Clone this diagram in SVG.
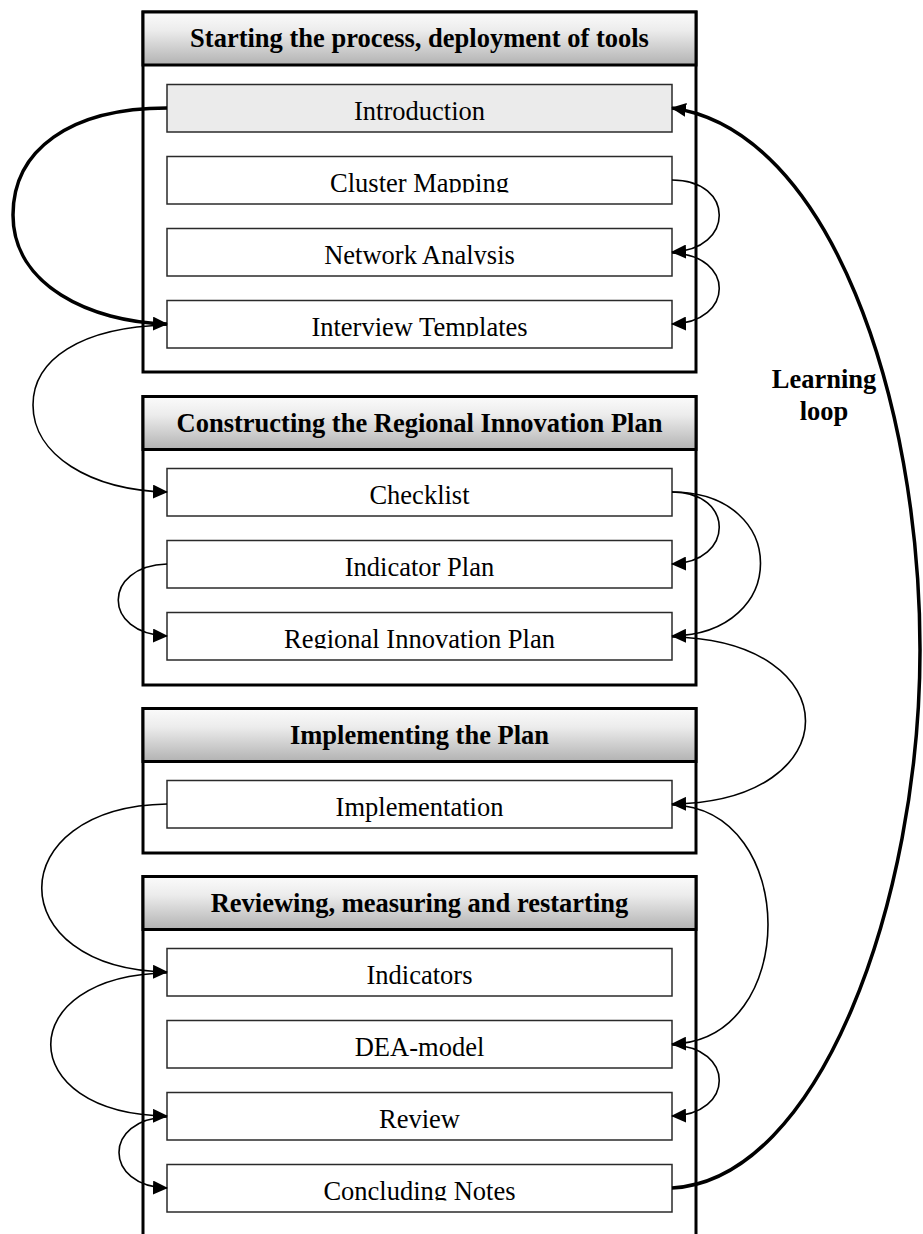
<svg xmlns="http://www.w3.org/2000/svg" width="923" height="1234" viewBox="0 0 923 1234">
  <style>
    .frame { fill: #ffffff; stroke: #000000; stroke-width: 3; }
    .frame-open { fill: none; stroke: #000000; stroke-width: 3; }
    .head { fill: url(#headGrad); stroke: #000000; stroke-width: 3; }
    .item { fill: #ffffff; stroke: #2a2a2a; stroke-width: 1.5; }
    .item-first { fill: #ebebeb; stroke: #2a2a2a; stroke-width: 1.5; }
    .title { font-family: "Liberation Serif", "Times New Roman", serif; font-weight: bold; font-size: 26.5px; text-anchor: middle; fill: #000000; }
    .label { font-family: "Liberation Serif", "Times New Roman", serif; font-size: 26.5px; text-anchor: middle; fill: #000000; }
    .link { fill: none; stroke: #000000; stroke-width: 1.6; marker-end: url(#arrow); }
    .link-bold { fill: none; stroke: #000000; stroke-width: 3.5; marker-end: url(#arrow); }
  </style>
  <defs>
    <linearGradient id="headGrad" x1="0" y1="0" x2="0" y2="1">
      <stop offset="0" stop-color="#fbfbfb"/>
      <stop offset="0.35" stop-color="#ececec"/>
      <stop offset="1" stop-color="#b2b2b2"/>
    </linearGradient>
    <marker id="arrow" viewBox="0 0 15 14" refX="14" refY="7" markerWidth="15" markerHeight="14" markerUnits="userSpaceOnUse" orient="auto">
      <path d="M0,0 L15,7 L0,14 z" fill="#000000"/>
    </marker>
    <!-- label areas: descenders run past the lower text margin -->
    <clipPath id="clipCluster"><rect x="167" y="156.5" width="505" height="36"/></clipPath>
    <clipPath id="clipNetwork"><rect x="167" y="228.5" width="505" height="36"/></clipPath>
    <clipPath id="clipInterview"><rect x="167" y="300.5" width="505" height="36"/></clipPath>
    <clipPath id="clipRip"><rect x="167" y="612.5" width="505" height="36"/></clipPath>
    <clipPath id="clipConcluding"><rect x="167" y="1164.5" width="505" height="36"/></clipPath>
  </defs>

  <!-- Phase 1 -->
  <g id="phase-start">
    <rect class="frame" x="143" y="12" width="553" height="360"/>
    <rect class="head" x="143" y="12" width="553" height="53"/>
    <text class="title" x="419.5" y="47">Starting the process, deployment of tools</text>
  </g>
  <g id="introduction">
    <rect class="item-first" x="167" y="84.5" width="505" height="47.5"/>
    <text class="label" x="419.5" y="119.5">Introduction</text>
  </g>
  <g id="cluster-mapping">
    <rect class="item" x="167" y="156.5" width="505" height="47.5"/>
    <text class="label" x="419.5" y="191.5" clip-path="url(#clipCluster)">Cluster Mapping</text>
  </g>
  <g id="network-analysis">
    <rect class="item" x="167" y="228.5" width="505" height="47.5"/>
    <text class="label" x="419.5" y="263.5" clip-path="url(#clipNetwork)">Network Analysis</text>
  </g>
  <g id="interview-templates">
    <rect class="item" x="167" y="300.5" width="505" height="47.5"/>
    <text class="label" x="419.5" y="335.5" clip-path="url(#clipInterview)">Interview Templates</text>
  </g>

  <!-- Phase 2 -->
  <g id="phase-construct">
    <rect class="frame" x="143" y="396.5" width="553" height="288.5"/>
    <rect class="head" x="143" y="396.5" width="553" height="53"/>
    <text class="title" x="419.5" y="431.5">Constructing the Regional Innovation Plan</text>
  </g>
  <g id="checklist">
    <rect class="item" x="167" y="468.5" width="505" height="47.5"/>
    <text class="label" x="419.5" y="503.5">Checklist</text>
  </g>
  <g id="indicator-plan">
    <rect class="item" x="167" y="540.5" width="505" height="47.5"/>
    <text class="label" x="419.5" y="575.5">Indicator Plan</text>
  </g>
  <g id="regional-innovation-plan">
    <rect class="item" x="167" y="612.5" width="505" height="47.5"/>
    <text class="label" x="419.5" y="647.5" clip-path="url(#clipRip)">Regional Innovation Plan</text>
  </g>

  <!-- Phase 3 -->
  <g id="phase-implement">
    <rect class="frame" x="143" y="708.5" width="553" height="144.5"/>
    <rect class="head" x="143" y="708.5" width="553" height="53"/>
    <text class="title" x="419.5" y="743.5">Implementing the Plan</text>
  </g>
  <g id="implementation">
    <rect class="item" x="167" y="780.5" width="505" height="47.5"/>
    <text class="label" x="419.5" y="815.5">Implementation</text>
  </g>

  <!-- Phase 4: frame runs past the lower edge -->
  <g id="phase-review">
    <rect x="143" y="876.5" width="553" height="370" fill="#ffffff"/>
    <path class="frame-open" d="M143,1240 V876.5 H696 V1240"/>
    <rect class="head" x="143" y="876.5" width="553" height="53"/>
    <text class="title" x="419.5" y="911.5">Reviewing, measuring and restarting</text>
  </g>
  <g id="indicators">
    <rect class="item" x="167" y="948.5" width="505" height="47.5"/>
    <text class="label" x="419.5" y="983.5">Indicators</text>
  </g>
  <g id="dea-model">
    <rect class="item" x="167" y="1020.5" width="505" height="47.5"/>
    <text class="label" x="419.5" y="1055.5">DEA-model</text>
  </g>
  <g id="review">
    <rect class="item" x="167" y="1092.5" width="505" height="47.5"/>
    <text class="label" x="419.5" y="1127.5">Review</text>
  </g>
  <g id="concluding-notes">
    <rect class="item" x="167" y="1164.5" width="505" height="47.5"/>
    <text class="label" x="419.5" y="1199.5" clip-path="url(#clipConcluding)">Concluding Notes</text>
  </g>

  <g id="learning-loop-label">
    <text class="title" x="824" y="388">Learning</text>
    <text class="title" x="824" y="420">loop</text>
  </g>

  <!-- Connectors -->
  <g id="connectors">
    <path class="link-bold" d="M167,108 C70,108 13,150 13,215 C13,285 90,322 167,324"/>
    <path class="link" d="M672,180 C735,180 735,250 672,252"/>
    <path class="link" d="M672,253 C735,255 735,322 672,324"/>
    <path class="link" d="M167,325 C80,327 33,360 33,405 C33,455 90,490 167,492"/>
    <path class="link" d="M672,492 C735,492 735,562 672,564"/>
    <path class="link" d="M672,492 C790,492 790,634 672,636"/>
    <path class="link" d="M167,564 C102,566 102,634 167,636"/>
    <path class="link" d="M672,637 C850,640 850,802 672,804"/>
    <path class="link" d="M167,804 C0,807 0,969 167,972"/>
    <path class="link" d="M672,805 C800,808 800,1041 672,1044"/>
    <path class="link" d="M167,973 C12,975 12,1114 167,1116"/>
    <path class="link" d="M672,1045 C735,1047 735,1114 672,1116"/>
    <path class="link" d="M167,1117 C103,1119 103,1186 167,1188"/>
    <path class="link-bold" d="M672,1188 C820,1180 920,900 920,650 C920,400 830,130 672,108"/>
  </g>
</svg>
